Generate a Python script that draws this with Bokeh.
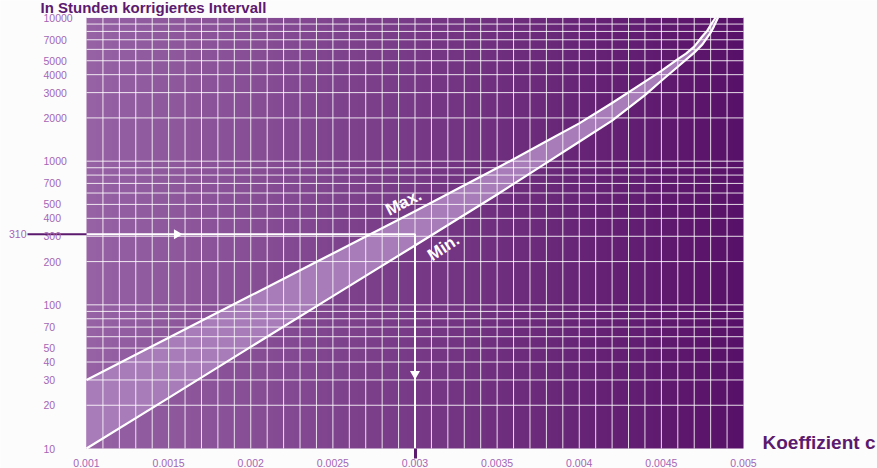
import numpy as np
from bokeh.plotting import figure
from bokeh.models import Range1d, FixedTicker
from bokeh.core.properties import value
from bokeh.embed import file_html
from bokeh.resources import INLINE

# ---------------- data ----------------
c_max = [0.0010, 0.0015, 0.0020, 0.0025, 0.0030, 0.0035, 0.0038, 0.0040,
         0.0042, 0.0044, 0.0045, 0.0046, 0.00465, 0.0047, 0.00475, 0.00478,
         0.0048, 0.00483]
h_max = [30, 59, 116, 228, 448, 895, 1377, 1832,
         2541, 3580, 4246, 5130, 5600, 6270, 7400, 8100,
         8870, 10000]
c_min = [0.0010, 0.0015, 0.0020, 0.0025, 0.0030, 0.0035, 0.0038, 0.0040,
         0.0042, 0.0044, 0.0045, 0.0046, 0.0047, 0.00475, 0.0048, 0.00482,
         0.004845]
h_min = [10, 22.5, 51, 115, 259, 586, 973, 1365,
         1915, 2884, 3630, 4540, 5690, 6500, 7840, 8670,
         10000]

x_ticks = [0.001, 0.0015, 0.002, 0.0025, 0.003, 0.0035, 0.004, 0.0045, 0.005]
x_tick_labels = ["0.001", "0.0015", "0.002", "0.0025", "0.003", "0.0035",
                 "0.004", "0.0045", "0.005"]
y_ticks = [10, 20, 30, 40, 50, 70, 100, 200, 300, 400, 500, 700,
           1000, 2000, 3000, 4000, 5000, 7000, 10000]
y_tick_labels = ["10", "20", "30", "40", "50", "70", "100", "200", "300", "400",
                 "500", "700", "1000", "2000", "3000", "4000", "5000", "7000", "10000"]

example_c = 0.003
example_h = 310        # corrected interval in hours
arrow_c = 0.00155      # position of the right-pointing arrow head
arrow_h = 33           # position of the down-pointing arrow head

title_text = "In Stunden korrigiertes Intervall"
xlabel_text = "Koeffizient c"

# ---------------- layout / style ----------------
X0, X1 = 0.001, 0.005
Y0, Y1 = 10, 10000
W, H = 877, 468
PX0, PX1 = 86, 743      # plot area, page pixels (x)
PY0, PY1 = 17, 448      # plot area, page pixels (top, bottom)

DARK = "#5c1a6e"
LABEL = "#a366b5"
BAND = "#a87bb9"
BG = "#fcfcfc"
FONT = "Liberation Sans"

sx = (X1 - X0) / (PX1 - PX0)
dec = (np.log10(Y1) - np.log10(Y0)) / (PY1 - PY0)
x_range = Range1d(X0 - PX0 * sx, X1 + (W - PX1) * sx)
y_range = Range1d(10 ** (np.log10(Y0) - (H - PY1) * dec),
                  10 ** (np.log10(Y1) + PY0 * dec))


def at_px_x(px):
    return X0 + (px - PX0) * sx


def at_px_y(py):
    return 10 ** (np.log10(Y0) + (PY1 - py) * dec)


x_grid = [round(0.001 + i * 0.0001, 4) for i in range(1, 40)]
y_grid = [m * 10 ** k for k in range(1, 4) for m in range(1, 10) if m * 10 ** k > 10] + [10000]

p = figure(width=W, height=H, x_range=x_range, y_range=y_range,
           y_axis_type="log", y_axis_location=None,
           output_backend="svg", toolbar_location=None,
           min_border_left=0, min_border_right=0, min_border_top=0,
           min_border_bottom=0, background_fill_color=BG, border_fill_color=BG)
p.title.visible = False
p.outline_line_color = None
p.grid.visible = False
for g in p.grid:
    g.grid_line_color = None

# gradient background of the plot area
n = 256
t = np.linspace(0, 1, n)
left = np.array([151, 99, 165], dtype=float)
right = np.array([88, 17, 104], dtype=float)
rgb = left[None, :] * (1 - t[:, None]) + right[None, :] * t[:, None]
img = np.zeros((1, n), dtype=np.uint32)
view = img.view(dtype=np.uint8).reshape((1, n, 4))
view[0, :, 0:3] = rgb.astype(np.uint8)
view[0, :, 3] = 255
p.image_rgba(image=[img], x=X0, y=Y0, dw=X1 - X0, dh=Y1 - Y0, level="image")

# band between Max and Min
p.patch(c_max + c_min[::-1], h_max + h_min[::-1], fill_color=BAND,
        line_color=None, level="image")

# grid (only inside the plot area)
p.segment(x0=x_grid, y0=[Y0] * len(x_grid), x1=x_grid, y1=[Y1] * len(x_grid),
          line_color="white", line_alpha=0.85, line_width=1, level="underlay")
p.segment(x0=[X0] * len(y_grid), y0=y_grid, x1=[X1] * len(y_grid), y1=y_grid,
          line_color="white", line_alpha=0.85, line_width=1, level="underlay")

# curves
p.line(c_max, h_max, line_color="white", line_width=2.2, line_join="round")
p.line(c_min, h_min, line_color="white", line_width=2.2, line_join="round")

# example reading path
p.line([X0, example_c, example_c], [example_h, example_h, Y0],
       line_color="white", line_width=2)
p.segment(x0=[at_px_x(27)], y0=[example_h], x1=[X0], y1=[example_h],
          line_color=DARK, line_width=2)
p.scatter([arrow_c], [example_h], marker="triangle", size=10, angle=-np.pi / 2,
          fill_color="white", line_color=None)
p.scatter([example_c], [arrow_h], marker="triangle", size=10, angle=np.pi,
          fill_color="white", line_color=None)

# x axis, pinned to the bottom of the plot area
xa = p.xaxis[0]
xa.fixed_location = Y0
xa.ticker = FixedTicker(ticks=x_ticks, minor_ticks=[example_c])
xa.major_label_overrides = {tk: lb for tk, lb in zip(x_ticks, x_tick_labels)}
xa.axis_line_color = None
xa.major_tick_line_color = None
xa.major_tick_in = 0
xa.major_tick_out = 0
xa.minor_tick_in = 0
xa.minor_tick_out = 10
xa.minor_tick_line_color = DARK
xa.minor_tick_line_width = 3
xa.major_label_standoff = 0
xa.major_label_text_font = FONT
xa.major_label_text_font_size = "10.5px"
xa.major_label_text_color = LABEL

# y tick labels (left aligned as in the original)
p.text(x=[at_px_x(43)] * len(y_ticks), y=y_ticks, text=y_tick_labels,
       text_align="left", text_baseline="middle", text_font=value(FONT),
       text_font_size=value("10.5px"), text_color=LABEL)
p.text(x=[at_px_x(26)], y=[example_h], text=[str(example_h)],
       text_align="right", text_baseline="middle", text_font=value(FONT),
       text_font_size=value("10.5px"), text_color=LABEL)

# Max / Min
p.text(x=[at_px_x(403)], y=[at_px_y(202)], text=["Max."], angle=0.47,
       text_align="center", text_baseline="middle", text_font=value(FONT),
       text_font_size=value("17px"), text_font_style="bold", text_color="white")
p.text(x=[at_px_x(443)], y=[at_px_y(247)], text=["Min."], angle=0.58,
       text_align="center", text_baseline="middle", text_font=value(FONT),
       text_font_size=value("17px"), text_font_style="bold", text_color="white")

# axis titles
p.text(x=[at_px_x(762)], y=[at_px_y(441.5)], text=[xlabel_text],
       text_align="left", text_baseline="middle", text_font=value(FONT),
       text_font_size=value("19px"), text_font_style="bold", text_color=DARK)
p.text(x=[at_px_x(40)], y=[at_px_y(6.5)], text=[title_text],
       text_align="left", text_baseline="middle", text_font=value(FONT),
       text_font_size=value("15px"), text_font_style="bold", text_color=DARK)

open("out.html", "w").write(file_html(p, INLINE))
